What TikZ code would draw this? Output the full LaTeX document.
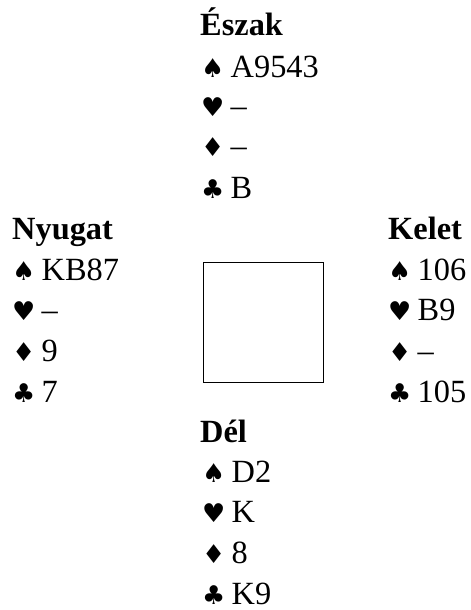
\documentclass[tikz,border=0pt]{standalone}
\usepackage{fontspec}
\setmainfont{Liberation Serif}
\newfontfamily\suitfont{DejaVu Sans}
\newcommand\suitrow[2]{\makebox[29.5bp][l]{\suitfont\fontsize{26}{26}\selectfont #1}#2}
\tikzset{
  handhead/.style={anchor=base west, inner sep=0pt, font=\fontsize{32.5}{34}\selectfont\bfseries},
  cardrow/.style={anchor=base west, inner sep=0pt, font=\fontsize{32.5}{34}\selectfont},
  tablebox/.style={draw, line width=1.3bp, minimum width=120bp, minimum height=120bp, inner sep=0pt, anchor=north west}
}
\begin{document}
\begin{tikzpicture}[x=1bp,y=-1bp]
\useasboundingbox (0,0) rectangle (471,610);
% North
\node[handhead] (nh) at (200,36) {Észak};
\node[cardrow] (ns) at (201,78) {\suitrow{♠}{A9543}};
\node[cardrow] (nhh) at (201,117) {\suitrow{♥}{–}};
\node[cardrow] (nd) at (201,157) {\suitrow{♦}{–}};
\node[cardrow] (nc) at (201,198) {\suitrow{♣}{B}};
% West
\node[handhead] (wh) at (12,239) {Nyugat};
\node[cardrow] (ws) at (12,280) {\suitrow{♠}{KB87}};
\node[cardrow] (whh) at (12,320) {\suitrow{♥}{–}};
\node[cardrow] (wd) at (12,361) {\suitrow{♦}{9}};
\node[cardrow] (wc) at (12,402) {\suitrow{♣}{7}};
% East
\node[handhead] (eh) at (388,239) {Kelet};
\node[cardrow] (es) at (388,280) {\suitrow{♠}{106}};
\node[cardrow] (ehh) at (388,320) {\suitrow{♥}{B9}};
\node[cardrow] (ed) at (388,361) {\suitrow{♦}{–}};
\node[cardrow] (ec) at (388,402) {\suitrow{♣}{105}};
% South
\node[handhead] (sh) at (200,442) {Dél};
\node[cardrow] (ss) at (202,482) {\suitrow{♠}{D2}};
\node[cardrow] (shh) at (202,522) {\suitrow{♥}{K}};
\node[cardrow] (sd) at (202,563) {\suitrow{♦}{8}};
\node[cardrow] (sc) at (202,604) {\suitrow{♣}{K9}};
% Table
\node[tablebox] (table) at (203,262) {};
\end{tikzpicture}
\end{document}
